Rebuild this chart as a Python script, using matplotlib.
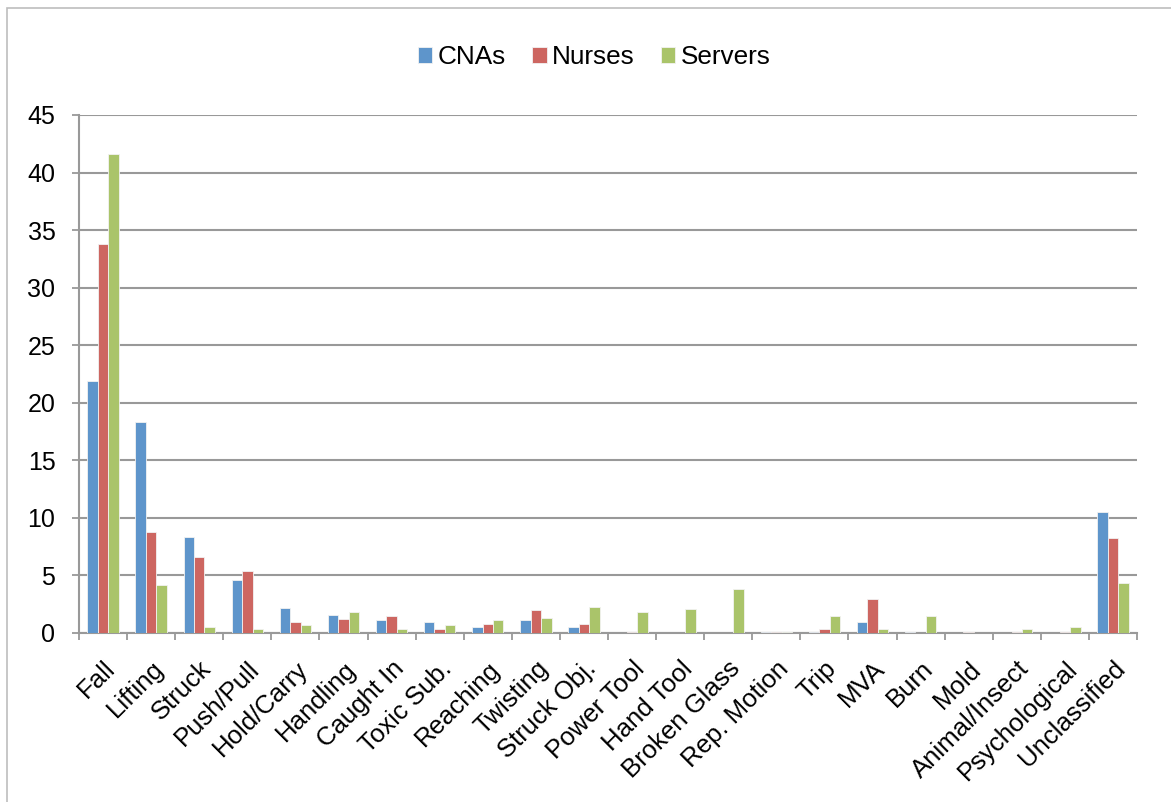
import matplotlib.pyplot as plt
import numpy as np
from matplotlib.patches import Rectangle

plt.rcParams["font.family"] = ["Liberation Sans", "DejaVu Sans"]

CATEGORIES = ["Fall", "Lifting", "Struck", "Push/Pull", "Hold/Carry", "Handling",
              "Caught In", "Toxic Sub.", "Reaching", "Twisting", "Struck Obj.",
              "Power Tool", "Hand Tool", "Broken Glass", "Rep. Motion", "Trip",
              "MVA", "Burn", "Mold", "Animal/Insect", "Psychological", "Unclassified"]
CNAS = [21.9, 18.3, 8.35, 4.6, 2.16, 1.55, 1.14, 0.94, 0.56, 1.17, 0.56,
        0.0, 0.0, 0.0, 0.06, 0.06, 0.94, 0.06, 0.0, 0.0, 0.0, 10.55]
NURSES = [33.8, 8.76, 6.59, 5.4, 0.94, 1.2, 1.49, 0.38, 0.79, 1.96, 0.79,
          0.06, 0.0, 0.0, 0.06, 0.38, 2.95, 0.0, 0.06, 0.06, 0.06, 8.21]
SERVERS = [41.6, 4.18, 0.5, 0.32, 0.7, 1.84, 0.32, 0.73, 1.11, 1.29, 2.22,
           1.84, 2.08, 3.8, 0.13, 1.46, 0.32, 1.46, 0.0, 0.32, 0.5, 4.37]
SERIES = [("CNAs", CNAS, "#5E95CB"), ("Nurses", NURSES, "#CD6661"), ("Servers", SERVERS, "#AAC46A")]

W, H = 1171, 802
fig = plt.figure(figsize=(W / 100, H / 100), dpi=100)
ax = fig.add_axes([79 / W, 1 - 633 / H, (1137 - 79) / W, (633 - 115) / H])

# outer chart frame
fig.patches.append(Rectangle((7 / W, -0.1), 1.2, 1 - 8 / H + 0.1, transform=fig.transFigure,
                             fill=False, edgecolor="#BDBDBD", linewidth=1.2))

x = np.arange(len(CATEGORIES))
width = 0.218
for i, (name, vals, color) in enumerate(SERIES):
    ax.bar(x + (i - 1) * width, vals, width=width, color=color, label=name,
           edgecolor="#F2F2F2", linewidth=0.6, zorder=3)

ax.set_xlim(-0.5, len(CATEGORIES) - 0.5)
ax.set_ylim(0, 45)
ax.set_yticks(np.arange(0, 46, 5))
ax.tick_params(axis="y", labelsize=18, length=5, width=1.3, color="#999999", pad=12)
ax.grid(axis="y", color="#999999", linewidth=1.5, zorder=0)

ax.set_xticks(np.arange(-0.5, len(CATEGORIES), 1.0))
ax.set_xticklabels([])
ax.tick_params(axis="x", length=5, width=1.3, color="#999999")
ax.set_xticks(x, minor=True)
ax.set_xticklabels(CATEGORIES, minor=True, rotation=45, ha="right",
                   rotation_mode="anchor", fontsize=18.5)
ax.tick_params(axis="x", which="minor", length=0, pad=17)
for lbl in ax.get_xticklabels(minor=True):
    lbl.set_x(lbl.get_position()[0] + 0.07)

for side in ["top", "right"]:
    ax.spines[side].set_visible(False)
for side in ["left", "bottom"]:
    ax.spines[side].set_color("#999999")
    ax.spines[side].set_linewidth(1.5)

fig.legend(loc="center", bbox_to_anchor=(594 / W, 1 - 57 / H), ncol=3, frameon=False,
           fontsize=18.8, handlelength=0.56, handleheight=0.56, handletextpad=0.2,
           columnspacing=1.0)

fig.savefig("out.png", dpi=100)
